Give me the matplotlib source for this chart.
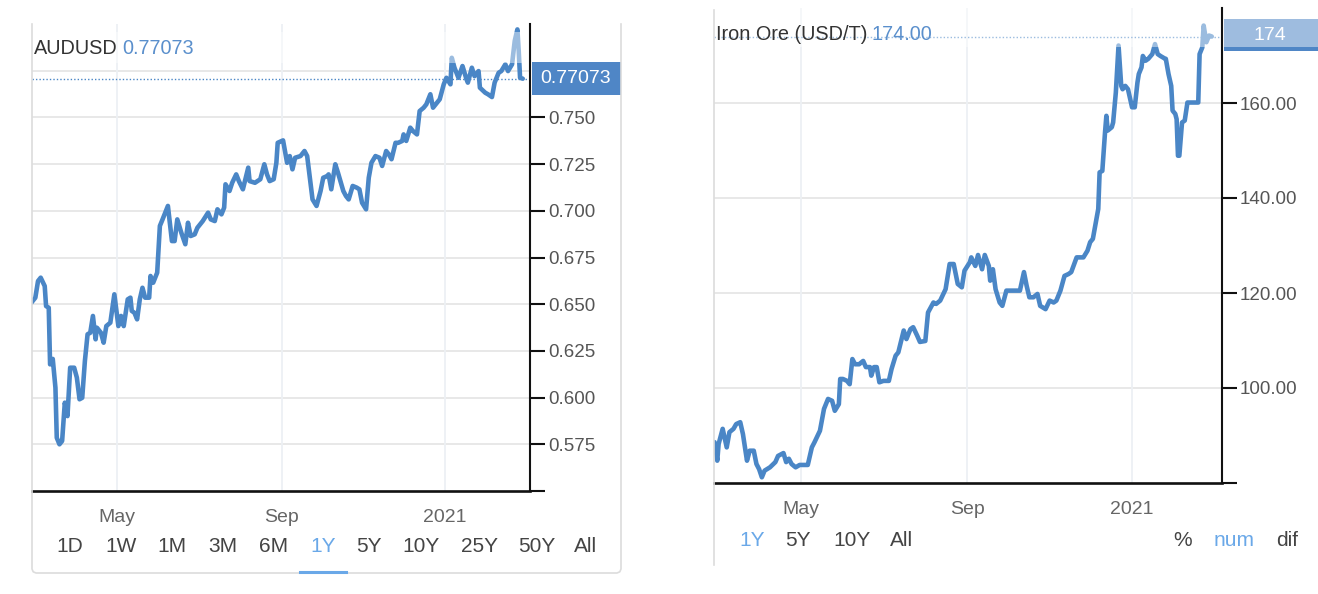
import pandas as pd
import matplotlib
matplotlib.use("Agg")
import matplotlib.pyplot as plt
from matplotlib.patches import Rectangle
from matplotlib.lines import Line2D

plt.rcParams["font.family"] = ["Liberation Sans", "DejaVu Sans"]

W, H = 1318, 594
LINE = "#4a86c6"
BOX = "#4f86c6"
VALUE_BLUE = "#5a8fcc"
SEL_BLUE = "#6aa8e8"
GRID = "#e6e6e6"
VGRID = "#edf0f4"

# ---- AUDUSD (1Y) ----
aud_dates = [
    "2020-02-27", "2020-03-01", "2020-03-03", "2020-03-05", "2020-03-08", "2020-03-09", "2020-03-11", "2020-03-12", "2020-03-14", "2020-03-16",
    "2020-03-17", "2020-03-19", "2020-03-21", "2020-03-23", "2020-03-25", "2020-03-27", "2020-03-30", "2020-04-01", "2020-04-03", "2020-04-05",
    "2020-04-07", "2020-04-09", "2020-04-11", "2020-04-13", "2020-04-15", "2020-04-16", "2020-04-19", "2020-04-21", "2020-04-23", "2020-04-26",
    "2020-04-29", "2020-05-02", "2020-05-04", "2020-05-06", "2020-05-09", "2020-05-11", "2020-05-12", "2020-05-14", "2020-05-16", "2020-05-18",
    "2020-05-20", "2020-05-22", "2020-05-25", "2020-05-26", "2020-05-28", "2020-05-31", "2020-06-02", "2020-06-04", "2020-06-08", "2020-06-09",
    "2020-06-11", "2020-06-13", "2020-06-15", "2020-06-18", "2020-06-21", "2020-06-23", "2020-06-25", "2020-06-28", "2020-06-30", "2020-07-04",
    "2020-07-08", "2020-07-10", "2020-07-13", "2020-07-15", "2020-07-18", "2020-07-20", "2020-07-21", "2020-07-24", "2020-07-26", "2020-07-29",
    "2020-07-31", "2020-08-03", "2020-08-07", "2020-08-08", "2020-08-12", "2020-08-16", "2020-08-19", "2020-08-21", "2020-08-23", "2020-08-26",
    "2020-08-28", "2020-08-29", "2020-09-02", "2020-09-03", "2020-09-05", "2020-09-07", "2020-09-09", "2020-09-11", "2020-09-15", "2020-09-18",
    "2020-09-20", "2020-09-22", "2020-09-24", "2020-09-27", "2020-09-30", "2020-10-02", "2020-10-05", "2020-10-06", "2020-10-08", "2020-10-11",
    "2020-10-13", "2020-10-17", "2020-10-19", "2020-10-21", "2020-10-24", "2020-10-27", "2020-10-29", "2020-10-31", "2020-11-03", "2020-11-05",
    "2020-11-07", "2020-11-10", "2020-11-13", "2020-11-15", "2020-11-18", "2020-11-20", "2020-11-22", "2020-11-25", "2020-11-27", "2020-11-30",
    "2020-12-01", "2020-12-03", "2020-12-06", "2020-12-08", "2020-12-11", "2020-12-13", "2020-12-16", "2020-12-18", "2020-12-21", "2020-12-23",
    "2020-12-26", "2020-12-28", "2020-12-31", "2021-01-02", "2021-01-05", "2021-01-06", "2021-01-08", "2021-01-11", "2021-01-14", "2021-01-17",
    "2021-01-18", "2021-01-21", "2021-01-23", "2021-01-26", "2021-01-27", "2021-01-31", "2021-02-02", "2021-02-05", "2021-02-07", "2021-02-10",
    "2021-02-12", "2021-02-15", "2021-02-17", "2021-02-20", "2021-02-22", "2021-02-24", "2021-02-25", "2021-02-26", "2021-02-28",
]
aud_values = [
    0.6508, 0.6535, 0.6624, 0.6642, 0.6597, 0.6490, 0.6481, 0.6178, 0.6207, 0.6053,
    0.5785, 0.5750, 0.5768, 0.5973, 0.5901, 0.6160, 0.6160, 0.6107, 0.5991, 0.5999,
    0.6196, 0.6339, 0.6347, 0.6437, 0.6312, 0.6374, 0.6347, 0.6294, 0.6383, 0.6401,
    0.6553, 0.6383, 0.6437, 0.6383, 0.6526, 0.6535, 0.6464, 0.6454, 0.6419, 0.6526,
    0.6588, 0.6535, 0.6535, 0.6651, 0.6615, 0.6669, 0.6919, 0.6954, 0.7026, 0.6963,
    0.6838, 0.6838, 0.6954, 0.6883, 0.6821, 0.6936, 0.6865, 0.6874, 0.6909, 0.6945,
    0.6990, 0.6954, 0.6945, 0.7008, 0.6981, 0.7017, 0.7142, 0.7106, 0.7150, 0.7195,
    0.7159, 0.7115, 0.7231, 0.7159, 0.7150, 0.7169, 0.7249, 0.7195, 0.7159, 0.7169,
    0.7257, 0.7364, 0.7377, 0.7338, 0.7257, 0.7293, 0.7222, 0.7284, 0.7293, 0.7320,
    0.7293, 0.7177, 0.7061, 0.7026, 0.7106, 0.7177, 0.7186, 0.7195, 0.7115, 0.7249,
    0.7204, 0.7106, 0.7079, 0.7061, 0.7133, 0.7124, 0.7115, 0.7043, 0.7008, 0.7177,
    0.7257, 0.7293, 0.7284, 0.7240, 0.7320, 0.7302, 0.7276, 0.7364, 0.7364, 0.7374,
    0.7409, 0.7374, 0.7445, 0.7427, 0.7409, 0.7534, 0.7552, 0.7570, 0.7624, 0.7552,
    0.7579, 0.7597, 0.7677, 0.7712, 0.7677, 0.7819, 0.7766, 0.7712, 0.7775, 0.7704,
    0.7686, 0.7766, 0.7721, 0.7748, 0.7659, 0.7632, 0.7624, 0.7609, 0.7686, 0.7739,
    0.7748, 0.7784, 0.7748, 0.7784, 0.7909, 0.7971, 0.7855, 0.7712, 0.77073,
]
aud_ticks = [0.55, 0.575, 0.600, 0.625, 0.650, 0.675, 0.700, 0.725, 0.750]
aud_tick_labels = ["", "0.575", "0.600", "0.625", "0.650", "0.675", "0.700", "0.725", "0.750"]
aud_grid = [0.575, 0.600, 0.625, 0.650, 0.675, 0.700, 0.725, 0.750, 0.775]
aud_buttons = ["1D", "1W", "1M", "3M", "6M", "1Y", "5Y", "10Y", "25Y", "50Y", "All"]

# ---- Iron Ore (1Y) ----
ore_dates = [
    "2020-02-27", "2020-02-29", "2020-03-01", "2020-03-04", "2020-03-07", "2020-03-09", "2020-03-12", "2020-03-14", "2020-03-17", "2020-03-19",
    "2020-03-22", "2020-03-24", "2020-03-27", "2020-03-29", "2020-03-31", "2020-04-02", "2020-04-04", "2020-04-08", "2020-04-12", "2020-04-14",
    "2020-04-18", "2020-04-20", "2020-04-22", "2020-04-24", "2020-04-27", "2020-04-30", "2020-05-06", "2020-05-09", "2020-05-11", "2020-05-15",
    "2020-05-18", "2020-05-21", "2020-05-24", "2020-05-26", "2020-05-29", "2020-05-30", "2020-06-01", "2020-06-04", "2020-06-06", "2020-06-08",
    "2020-06-10", "2020-06-13", "2020-06-16", "2020-06-18", "2020-06-21", "2020-06-22", "2020-06-24", "2020-06-26", "2020-06-28", "2020-07-01",
    "2020-07-05", "2020-07-07", "2020-07-10", "2020-07-12", "2020-07-16", "2020-07-18", "2020-07-21", "2020-07-23", "2020-07-26", "2020-07-28",
    "2020-08-01", "2020-08-03", "2020-08-07", "2020-08-09", "2020-08-12", "2020-08-16", "2020-08-19", "2020-08-22", "2020-08-25", "2020-08-28",
    "2020-08-30", "2020-09-03", "2020-09-04", "2020-09-07", "2020-09-09", "2020-09-12", "2020-09-14", "2020-09-17", "2020-09-18", "2020-09-20",
    "2020-09-22", "2020-09-25", "2020-09-27", "2020-09-30", "2020-10-05", "2020-10-10", "2020-10-13", "2020-10-15", "2020-10-17", "2020-10-20",
    "2020-10-23", "2020-10-25", "2020-10-29", "2020-11-01", "2020-11-04", "2020-11-06", "2020-11-09", "2020-11-12", "2020-11-15", "2020-11-17",
    "2020-11-21", "2020-11-26", "2020-11-29", "2020-12-01", "2020-12-03", "2020-12-07", "2020-12-08", "2020-12-10", "2020-12-12", "2020-12-13",
    "2020-12-14", "2020-12-17", "2020-12-18", "2020-12-20", "2020-12-22", "2020-12-24", "2020-12-25", "2020-12-27", "2020-12-29", "2021-01-01",
    "2021-01-03", "2021-01-05", "2021-01-06", "2021-01-08", "2021-01-09", "2021-01-11", "2021-01-13", "2021-01-16", "2021-01-18", "2021-01-20",
    "2021-01-22", "2021-01-25", "2021-01-26", "2021-01-28", "2021-01-30", "2021-01-31", "2021-02-02", "2021-02-03", "2021-02-04", "2021-02-05",
    "2021-02-07", "2021-02-09", "2021-02-11", "2021-02-14", "2021-02-19", "2021-02-20", "2021-02-22", "2021-02-23", "2021-02-25", "2021-02-27",
    "2021-03-01",
]
ore_values = [
    88.6, 84.7, 88.2, 91.4, 87.5, 90.7, 91.4, 92.4, 92.8, 90.3,
    84.7, 86.8, 86.8, 84.0, 82.9, 81.2, 82.6, 83.3, 84.4, 85.7,
    86.3, 84.4, 85.1, 84.0, 83.3, 83.8, 83.8, 87.5, 88.6, 91.0,
    95.6, 97.7, 97.3, 95.2, 96.6, 101.9, 101.9, 101.5, 100.8, 106.1,
    105.0, 105.0, 105.7, 104.4, 104.4, 102.6, 104.4, 104.4, 101.2, 101.5,
    101.5, 104.0, 106.8, 107.5, 112.1, 110.3, 112.4, 112.8, 111.0, 109.7,
    109.9, 115.9, 118.0, 117.7, 118.4, 120.8, 126.1, 126.1, 121.9, 121.2,
    124.7, 126.5, 127.5, 125.7, 128.0, 125.0, 128.0, 125.7, 122.6, 125.0,
    120.8, 118.0, 117.3, 120.5, 120.5, 120.5, 124.4, 121.5, 119.1, 119.1,
    119.8, 117.3, 116.6, 118.4, 118.0, 118.4, 120.5, 123.6, 124.0, 124.4,
    127.5, 127.5, 128.9, 130.7, 131.4, 137.7, 145.4, 145.7, 153.8, 157.3,
    154.2, 154.9, 155.9, 162.2, 172.1, 163.6, 162.9, 163.6, 162.9, 159.1,
    159.1, 164.3, 166.1, 167.5, 169.9, 168.9, 169.3, 170.3, 172.4, 170.3,
    169.9, 169.4, 169.3, 166.1, 163.6, 158.4, 157.7, 156.6, 148.9, 148.9,
    155.9, 156.3, 160.1, 160.1, 160.1, 170.3, 171.7, 176.3, 172.8, 174.2,
    174.0,
]
ore_ticks = [80, 100, 120, 140, 160]
ore_tick_labels = ["", "100.00", "120.00", "140.00", "160.00"]
ore_grid = [100, 120, 140, 160]
ore_buttons = ["1Y", "5Y", "10Y", "All"]
ore_modes = ["%", "num", "dif"]

month_ticks = ["2020-05-01", "2020-09-01", "2021-01-01"]
month_labels = ["May", "Sep", "2021"]


def fx(x):
    return x / W


def fy(y):
    return 1 - y / H


def px_rect(x0, y0, x1, y1):
    return [x0 / W, 1 - y1 / H, (x1 - x0) / W, (y1 - y0) / H]


def setup_axes(ax, dates, values, ylim, xlim, ticks, tick_labels, grid):
    d = pd.to_datetime(dates)
    ax.plot(d, values, color=LINE, lw=3.3, solid_joinstyle="round",
            solid_capstyle="round", zorder=2)
    ax.set_ylim(*ylim)
    ax.set_xlim(pd.Timestamp(xlim[0]), pd.Timestamp(xlim[1]))
    for g in grid:
        ax.axhline(g, color=GRID, lw=1.3, zorder=0.5)
    for m in pd.to_datetime(month_ticks):
        ax.axvline(m, color=VGRID, lw=1.3, zorder=0.5)
    # dotted last-price line
    ax.axhline(values[-1], color=LINE, lw=1.0, ls=(0, (1, 1.5)), zorder=1.9)

    ax.yaxis.tick_right()
    ax.set_yticks(ticks)
    ax.set_yticklabels(tick_labels)
    ax.tick_params(axis="y", length=11, width=1.5, color="#111", pad=2,
                   labelsize=13.5, labelcolor="#555")
    ax.set_xticks(pd.to_datetime(month_ticks))
    ax.set_xticklabels(month_labels)
    ax.tick_params(axis="x", length=0, pad=13, labelsize=14, labelcolor="#666")

    for s in ["left", "top"]:
        ax.spines[s].set_visible(False)
    ax.spines["bottom"].set_linewidth(1.9)
    ax.spines["bottom"].set_color("#111")
    ax.spines["right"].set_linewidth(1.5)
    ax.spines["right"].set_color("#111")
    ax.set_facecolor("none")


fig = plt.figure(figsize=(W / 100, H / 100), dpi=100)

# ================= left: AUDUSD =================
ax1 = fig.add_axes(px_rect(32, 24, 530, 491))
setup_axes(ax1, aud_dates, aud_values, (0.55, 0.80),
           ("2020-02-27 12:00", "2021-03-05 10:00"),
           aud_ticks, aud_tick_labels, aud_grid)

yt1 = ax1.get_yaxis_transform()
last1 = aud_values[-1]
ax1.add_patch(Rectangle((1.004, last1 - 0.0089), 0.178, 0.0178, transform=yt1,
                        fc=BOX, ec="none", clip_on=False, zorder=2.2))
ax1.text(1.0924, last1, f"{last1:.5f}", transform=yt1, ha="center", va="center",
         color="white", fontsize=14, clip_on=False, zorder=3)
# translucent legend band across the top
ax1.add_patch(Rectangle((0, 0.7792), 1, 0.0167, transform=yt1, fc="white",
                        ec="none", alpha=0.45, zorder=2.3))

t1 = fig.text(fx(34), fy(49), "AUDUSD", ha="left", va="center",
              fontsize=14.3, color="#333")
ax1.annotate(f"{last1:.5f}", xy=(1, 0.5), xycoords=t1, xytext=(3, 0),
             textcoords="offset points", ha="left", va="center",
             fontsize=14.3, color=VALUE_BLUE, annotation_clip=False)

# card border
card = [(32, 24), (32, 569), (33.2, 571.8), (36, 573), (617, 573),
        (619.8, 571.8), (621, 569), (621, 24)]
fig.add_artist(Line2D([fx(p[0]) for p in card], [fy(p[1]) for p in card],
                      transform=fig.transFigure, color="#dcdcdc", lw=1.2))

aud_button_x = [70, 121, 172, 223, 274, 323, 369, 421, 479, 537, 586]
for lab, bx in zip(aud_buttons, aud_button_x):
    sel = lab == "1Y"
    fig.text(fx(bx), fy(546), lab, ha="center", va="center", fontsize=15,
             color=SEL_BLUE if sel else "#444")
fig.add_artist(Line2D([fx(300), fx(346)], [fy(571.5), fy(571.5)],
                      transform=fig.transFigure, color=SEL_BLUE, lw=2.2))

# ================= right: Iron Ore =================
ax2 = fig.add_axes(px_rect(714, 8, 1222, 483))
setup_axes(ax2, ore_dates, ore_values, (80, 180),
           ("2020-02-26 14:00", "2021-03-08 14:00"),
           ore_ticks, ore_tick_labels, ore_grid)

yt2 = ax2.get_yaxis_transform()
last2 = ore_values[-1]
ax2.add_patch(Rectangle((1.003, 170.9), 0.25, 6.8, transform=yt2,
                        fc=BOX, ec="none", clip_on=False, zorder=2.2))
ax2.text(1.0945, 174.2, f"{last2:.0f}", transform=yt2, ha="center", va="center",
         color="white", fontsize=14, clip_on=False, zorder=3)
ax2.add_patch(Rectangle((0, 171.8), 1.25, 12, transform=yt2, fc="white",
                        ec="none", alpha=0.45, clip_on=False, zorder=2.3))

t2 = fig.text(fx(716), fy(34), "Iron Ore (USD/T)", ha="left", va="center",
              fontsize=14.3, color="#333")
ax2.annotate(f"{last2:.2f}", xy=(1, 0.5), xycoords=t2, xytext=(3, 0),
             textcoords="offset points", ha="left", va="center",
             fontsize=14.3, color=VALUE_BLUE, annotation_clip=False)

fig.add_artist(Line2D([fx(714), fx(714)], [fy(10), fy(565)],
                      transform=fig.transFigure, color="#dcdcdc", lw=1.2))

ore_button_x = [752, 798, 852, 902]
for lab, bx in zip(ore_buttons, ore_button_x):
    fig.text(fx(bx), fy(540), lab, ha="center", va="center", fontsize=15,
             color=SEL_BLUE if lab == "1Y" else "#444")
ore_mode_x = [1183, 1234, 1287]
for lab, bx in zip(ore_modes, ore_mode_x):
    fig.text(fx(bx), fy(540), lab, ha="center", va="center", fontsize=15,
             color=SEL_BLUE if lab == "num" else "#444")

fig.savefig("out.png", dpi=100, facecolor="white")
